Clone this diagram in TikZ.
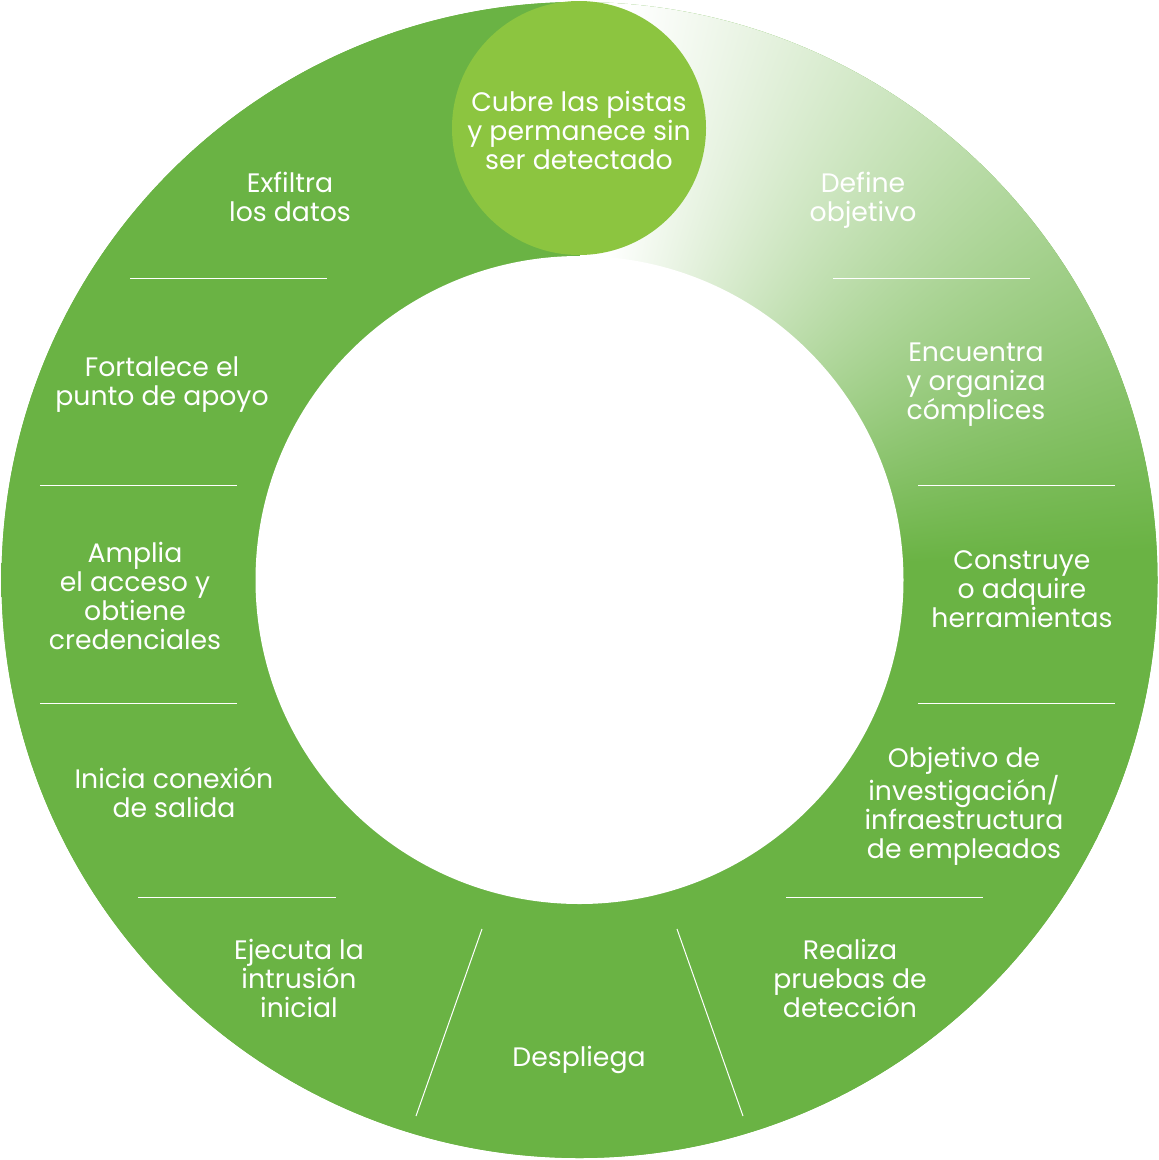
\documentclass[tikz,border=0pt]{standalone}
\usepackage{fontspec}
\setmainfont{Poppins}
\usepackage{xcolor}
\usepackage{tikz}
\definecolor{ringgreen}{HTML}{6AB344}
\definecolor{topgreen}{HTML}{8CC540}
% white at the top, fading clockwise into ringgreen
\pgfdeclarefunctionalshading{ringfade}{\pgfpointorigin}{\pgfpoint{100bp}{100bp}}{}{
    50 sub exch 50.0001 sub exch atan
    0.0122 mul 1.06 exch sub
    dup 1 gt {pop 1} if
    dup 0 lt {pop 0} if
    dup 0.584 mul 0.416 add exch
    dup 0.298 mul 0.702 add exch
    0.733 mul 0.267 add
}
\begin{document}
\begin{tikzpicture}[x=1pt,y=-1pt,
    stage/.style={text=white,align=center,inner sep=0pt,font=\fontsize{26.7}{29}\selectfont},
    sep/.style={white,line width=1pt}]
    \useasboundingbox (0,0) rectangle (1159,1160);
    \coordinate (c) at (579.5,580);
    \fill[ringgreen] (c) circle[radius=578];
    \shade[shading=ringfade] (c) circle[radius=578];
    \fill[white] (c) circle[radius=324];
    \node[circle,fill=topgreen,minimum size=254pt,inner sep=0pt] (cubre) at (579,128) {};
    \node[stage] at ([yshift=-2pt]cubre) {Cubre las pistas\\y permanece sin\\ser detectado};
    % separators
    \draw[sep] (130,278) -- (327,278);
    \draw[sep] (833,278) -- (1030,278);
    \draw[sep] (40,485) -- (237,485);
    \draw[sep] (918,485) -- (1115,485);
    \draw[sep] (40,703) -- (237,703);
    \draw[sep] (918,703) -- (1115,703);
    \draw[sep] (138,897) -- (336,897);
    \draw[sep] (786,897) -- (983,897);
    \draw[sep] (482,929) -- (416,1116);
    \draw[sep] (677,929) -- (743,1116);
    % stages
    \node[stage] (exfiltra) at (290,197) {Exfiltra\\los datos};
    \node[stage] (define) at (863,200) {Define\\objetivo};
    \node[stage] (fortalece) at (162,385) {Fortalece el\\punto de apoyo};
    \node[stage] (encuentra) at (976,385) {Encuentra\\y organiza\\cómplices};
    \node[stage] (amplia) at (135,596) {Amplia\\el acceso y\\obtiene\\credenciales};
    \node[stage] (construye) at (1022,589) {Construye\\o adquire\\herramientas};
    \node[stage] (inicia) at (174,793) {Inicia conexión\\de salida};
    \node[stage] (objetivo) at (964,806) {Objetivo de\\investigación/\\infraestructura\\de empleados};
    \node[stage] (ejecuta) at (299,978) {Ejecuta la\\intrusión\\inicial};
    \node[stage] (realiza) at (850,978) {Realiza\\pruebas de\\detección};
    \node[stage] (despliega) at (579,1060) {Despliega};
\end{tikzpicture}
\end{document}
